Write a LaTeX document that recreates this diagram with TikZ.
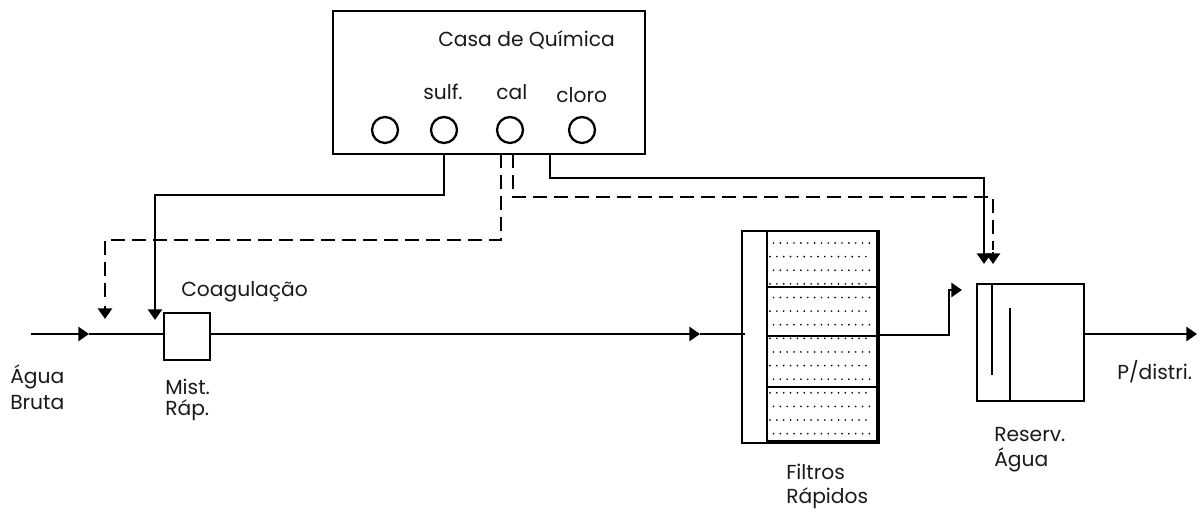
\documentclass[tikz,border=0pt]{standalone}
\usepackage{fontspec}
\setmainfont{Poppins}
\usetikzlibrary{arrows.meta}
\tikzset{
  x=0.75pt,y=-0.75pt,
  wire/.style={line width=2.05pt,line cap=butt},
  dashwire/.style={line width=2.05pt,dash pattern=on 10.5pt off 5.25pt},
  tip/.style={-{Triangle[length=8pt,width=10.5pt]}},
  box/.style={draw,line width=2.05pt,inner sep=0pt,outer sep=0pt},
  valve/.style={draw,circle,line width=1.7pt,minimum size=19.5pt,inner sep=0pt},
  lbl/.style={inner sep=0pt,anchor=west,font=\fontsize{15.2pt}{17pt}\selectfont,text=black!90},
}
\begin{document}
\begin{tikzpicture}
\useasboundingbox (0,0) rectangle (1203,516);
% boxes
\node[box,minimum width=234pt,minimum height=107.25pt] (casa) at (489,82.5) {};
\node[valve] (v1) at (385,130) {};
\node[valve] (v2) at (444,130) {};
\node[valve] (v3) at (510,130) {};
\node[valve] (v4) at (582,130) {};
\node[box,minimum width=34.5pt,minimum height=35.25pt] (mist) at (187,336.5) {};
\node[box,minimum width=80.25pt,minimum height=87.75pt] (res) at (1030.5,342.5) {};
\node[box,minimum width=102.75pt,minimum height=159pt] (fil) at (810.5,337) {};
% filter interior
\foreach \r in {0,...,14}{
  \pgfmathsetmacro{\yy}{243+\r*13.62}
  \pgfmathsetmacro{\xs}{isodd(\r)?770:773.5}
  \foreach \c in {0,...,14}{
    \fill (\xs+\c*6.85,\yy) circle (0.7pt);
  }
}
\draw[line width=2pt] (767,231) -- (767,443);
\draw[line width=2pt] (767,287) -- (879,287);
\draw[line width=2pt] (767,336) -- (879,336);
\draw[line width=2pt] (767,387) -- (879,387);
\draw[line width=3pt] (878,231) -- (878,443) (767,442) -- (879,442);
% reservoir baffles
\draw[wire] (992,284) -- (992,375);
\draw[wire] (1010,308) -- (1010,401);
% coordinates
\coordinate (inlet) at (31,334);
\coordinate (a1) at (89,334);
\coordinate (a2) at (700,334);
\coordinate (filin) at (745,334);
\coordinate (out) at (1197,334);
\coordinate (filout) at (879,335);
\coordinate (resin) at (962,290);
\coordinate (s0) at (444,154);
\coordinate (s1) at (155,320);
\coordinate (c0) at (501,154);
\coordinate (c1) at (105,319);
\coordinate (d0) at (513,154);
\coordinate (d1) at (993,264);
\coordinate (k0) at (550,154);
\coordinate (k1) at (984,264);
% main line
\draw[wire,tip] (inlet) -- (a1);
\draw[wire] (a1) -- (mist.west |- a1);
\draw[wire,tip] (mist.east |- a2) -- (a2);
\draw[wire] (a2) -- (filin);
\draw[wire,tip] (filout) -- (949,335) -- (949,290) -- (resin);
\draw[wire,tip] (res.east |- out) -- (out);
% chemicals
\draw[wire,tip] (s0) -- (444,195) -- (155,195) -- (s1);
\draw[wire,tip] (k0) -- (550,178) -- (984,178) -- (k1);
\draw[dashwire] (c0) -- (501,240) -- (105,240) -- (105,304);
\draw[wire,tip] (105,306) -- (c1);
\draw[dashwire] (d0) -- (513,197) -- (993,197) -- (993,250);
\draw[wire,tip] (993,252) -- (d1);
% labels
\node[lbl] (t1) at (438,40) {Casa de Química};
\node[lbl] (t2) at (423,92) {sulf.};
\node[lbl] (t3) at (496,92) {cal};
\node[lbl] (t4) at (556,95) {cloro};
\node[lbl] (t5) at (181,292) {Coagulação};
\node[lbl] (t6) at (10,377) {Água};
\node[lbl] (t7) at (10,403) {Bruta};
\node[lbl] (t8) at (165,387) {Mist.};
\node[lbl] (t9) at (165,410) {Ráp.};
\node[lbl] (t10) at (994,435) {Reserv.};
\node[lbl] (t11) at (994,460) {Água};
\node[lbl] (t12) at (786,472) {Filtros};
\node[lbl] (t13) at (786,498) {Rápidos};
\node[lbl] (t14) at (1117,372) {P/distri.};
\end{tikzpicture}
\end{document}
